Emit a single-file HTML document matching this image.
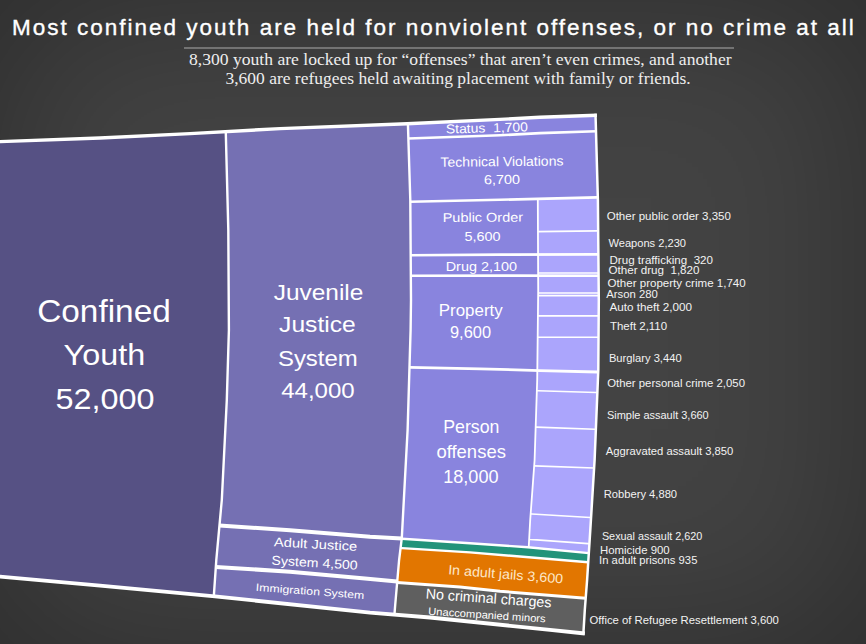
<!DOCTYPE html>
<html><head><meta charset="utf-8"><style>
html,body{margin:0;padding:0;}
body{width:866px;height:644px;overflow:hidden;position:relative;
background:#434343;box-shadow:inset 0 0 180px 0 rgba(0,0,0,0.35);
font-family:"Liberation Sans",sans-serif;}
svg{position:absolute;left:0;top:0;}
text{font-family:"Liberation Sans",sans-serif;}
</style></head><body>
<svg width="866" height="644" viewBox="0 0 866 644">
<text x="0" y="0" transform="translate(12.1 35.1) rotate(0.00)" font-size="22.5" fill="#ffffff" textLength="841.7" lengthAdjust="spacing" xml:space="preserve" stroke="#ffffff" stroke-width="0.35">Most confined youth are held for nonviolent offenses, or no crime at all</text>
<line x1="184" y1="48" x2="734" y2="48" stroke="#737373" stroke-width="2"/>
<text x="0" y="0" transform="translate(189.0 64.9) rotate(0.00)" font-size="17.0" fill="#eeeeee" textLength="542.6" lengthAdjust="spacingAndGlyphs" xml:space="preserve" style="font-family:'Liberation Serif',serif">8,300 youth are locked up for “offenses” that aren’t even crimes, and another</text>
<text x="0" y="0" transform="translate(225.5 84.0) rotate(0.00)" font-size="17.0" fill="#eeeeee" textLength="465.2" lengthAdjust="spacingAndGlyphs" xml:space="preserve" style="font-family:'Liberation Serif',serif">3,600 are refugees held awaiting placement with family or friends.</text>
<polygon points="-10.0,142.2 0.0,141.6 100.0,138.0 190.0,133.6 225.8,131.6 225.8,133.0 228.3,230.0 228.9,330.0 226.8,400.0 221.8,500.0 216.3,560.0 213.8,596.3 100.0,585.6 0.0,576.7 -10.0,575.9" fill="#565184"/>
<polygon points="225.8,131.6 280.0,128.6 407.0,123.7 407.9,123.7 407.9,123.7 410.3,200.0 411.0,300.0 410.6,330.0 407.6,430.0 404.9,480.0 401.8,538.0 401.7,538.5 370.0,536.7 290.0,530.3 219.5,525.5 221.8,500.0 226.8,400.0 228.9,330.0 228.3,230.0 225.8,133.0" fill="#7570b3"/>
<polygon points="219.5,525.5 290.0,530.3 370.0,536.7 401.7,538.5 399.1,560.0 397.2,581.5 397.0,581.5 365.0,578.5 290.0,571.7 215.8,566.9 216.3,560.0" fill="#7570b3"/>
<polygon points="215.8,566.9 290.0,571.7 365.0,578.5 397.0,581.5 397.2,581.5 395.2,605.0 394.5,614.0 394.5,614.6 370.0,612.6 215.0,596.4 213.8,596.3" fill="#7570b3"/>
<polygon points="407.9,123.7 500.0,119.4 540.0,117.2 595.5,115.3 596.0,131.2 540.0,133.1 500.0,135.3 408.4,138.5 407.9,123.7" fill="#8984de"/>
<polygon points="408.4,138.5 500.0,135.3 540.0,133.1 596.0,131.2 597.8,197.4 597.0,197.4 500.0,199.8 410.3,201.7 410.3,200.0" fill="#8984de"/>
<polygon points="410.3,201.7 500.0,199.8 537.8,198.9 537.8,199.0 538.2,290.0 537.3,370.5 480.0,368.8 410.0,367.3 409.5,367.3 410.6,330.0 411.0,300.0" fill="#8984de"/>
<polygon points="409.5,367.3 410.0,367.3 480.0,368.8 537.3,370.5 537.2,380.0 534.6,460.0 530.2,520.0 528.7,547.4 528.0,547.3 470.0,543.2 402.0,538.8 401.7,538.8 401.8,538.0 404.9,480.0 407.6,430.0" fill="#8984de"/>
<polygon points="537.8,198.9 597.0,197.4 597.8,197.4 597.9,200.0 598.8,300.0 598.3,370.0 594.6,460.0 590.3,530.0 588.8,553.1 528.7,547.4 530.2,520.0 534.6,460.0 537.2,380.0 538.2,290.0 537.8,199.0" fill="#aba5fc"/>
<polygon points="401.7,538.8 402.0,538.8 470.0,543.2 528.0,547.3 588.8,553.1 588.2,562.2 470.0,552.4 402.0,548.1 400.6,548.0" fill="#22937a"/>
<polygon points="400.6,548.0 402.0,548.1 470.0,552.4 588.2,562.2 587.1,580.0 585.7,598.2 500.0,591.3 460.0,587.0 397.1,582.5 399.1,560.0" fill="#e27600"/>
<polygon points="397.1,582.5 460.0,587.0 500.0,591.3 585.7,598.2 584.8,610.0 583.4,633.3 550.0,629.9 430.0,617.5 394.5,614.6 394.5,614.0 395.2,605.0" fill="#5f5f5f"/>
<polyline points="225.8,131.6 225.8,133.0 228.3,230.0 228.9,330.0 226.8,400.0 221.8,500.0 216.3,560.0 213.8,596.3" fill="none" stroke="#fff" stroke-width="2.40"/>
<polyline points="407.9,123.7 407.9,123.7 410.3,200.0 411.0,300.0 410.6,330.0 407.6,430.0 404.9,480.0 401.8,538.0 399.1,560.0 395.2,605.0 394.5,614.0 394.5,614.6" fill="none" stroke="#fff" stroke-width="2.40"/>
<polyline points="537.8,198.9 537.8,199.0 538.2,290.0 537.2,380.0 534.6,460.0 530.2,520.0 528.7,547.4" fill="none" stroke="#fff" stroke-width="1.80"/>
<polyline points="219.5,525.5 290.0,530.3 370.0,536.7 401.7,538.5" fill="none" stroke="#fff" stroke-width="4.00"/>
<polyline points="215.8,566.9 290.0,571.7 365.0,578.5 397.0,581.5 397.2,581.5" fill="none" stroke="#fff" stroke-width="4.00"/>
<polyline points="408.4,138.5 500.0,135.3 540.0,133.1 596.0,131.2" fill="none" stroke="#fff" stroke-width="2.60"/>
<polyline points="410.3,201.7 500.0,199.8 597.0,197.4 597.8,197.4" fill="none" stroke="#fff" stroke-width="2.60"/>
<polyline points="410.7,255.2 500.0,254.6 597.0,254.4 598.4,254.4" fill="none" stroke="#fff" stroke-width="2.60"/>
<polyline points="410.8,275.8 500.0,275.6 597.0,275.8 598.6,275.8" fill="none" stroke="#fff" stroke-width="2.60"/>
<polyline points="409.5,367.3 410.0,367.3 480.0,368.8 540.0,370.6 597.0,372.0 598.2,372.0" fill="none" stroke="#fff" stroke-width="2.80"/>
<polyline points="401.7,538.8 402.0,538.8 470.0,543.2 528.0,547.3 588.8,553.1" fill="none" stroke="#fff" stroke-width="2.40"/>
<polyline points="400.6,548.0 402.0,548.1 470.0,552.4 588.2,562.2" fill="none" stroke="#fff" stroke-width="2.40"/>
<polyline points="397.1,582.5 460.0,587.0 500.0,591.3 585.7,598.2" fill="none" stroke="#fff" stroke-width="3.00"/>
<polyline points="537.9,231.6 538.0,231.6 597.0,230.9 598.2,230.9" fill="none" stroke="#fff" stroke-width="1.60"/>
<polyline points="538.1,273.0 597.0,273.0 598.6,273.0" fill="none" stroke="#fff" stroke-width="1.60"/>
<polyline points="538.2,293.0 597.0,293.0 598.7,293.0" fill="none" stroke="#fff" stroke-width="1.60"/>
<polyline points="538.1,295.6 597.0,295.6 598.8,295.6" fill="none" stroke="#fff" stroke-width="1.60"/>
<polyline points="537.9,315.9 538.0,315.9 597.0,315.9 598.7,315.9" fill="none" stroke="#fff" stroke-width="1.60"/>
<polyline points="537.7,337.3 538.0,337.3 597.0,337.3 598.5,337.3" fill="none" stroke="#fff" stroke-width="1.60"/>
<polyline points="536.9,390.7 538.0,390.7 596.0,392.5 597.4,392.5" fill="none" stroke="#fff" stroke-width="1.60"/>
<polyline points="535.7,427.1 536.0,427.1 595.0,429.2 595.9,429.2" fill="none" stroke="#fff" stroke-width="1.60"/>
<polyline points="534.2,465.9 594.0,468.0 594.1,468.0" fill="none" stroke="#fff" stroke-width="1.60"/>
<polyline points="530.6,513.9 532.0,514.0 590.0,517.5 591.1,517.6" fill="none" stroke="#fff" stroke-width="1.60"/>
<polyline points="529.2,539.3 530.0,539.4 588.0,543.6 589.4,543.7" fill="none" stroke="#fff" stroke-width="1.60"/>
<polyline points="595.5,113.7 597.9,200.0 598.8,300.0 598.3,370.0 594.6,460.0 590.3,530.0 587.1,580.0 584.8,610.0 583.3,634.9" fill="none" stroke="#fff" stroke-width="2.50"/>
<polyline points="-11.4,142.3 0.0,141.6 100.0,138.0 190.0,133.6 280.0,128.6 407.0,123.7 500.0,119.4 540.0,117.2 596.9,115.3" fill="none" stroke="#fff" stroke-width="3.40"/>
<polyline points="-11.4,575.7 0.0,576.7 100.0,585.6 215.0,596.4 370.0,612.6 430.0,617.5 550.0,629.9 584.8,633.5" fill="none" stroke="#fff" stroke-width="3.80"/>
<text x="0" y="0" transform="translate(37.2 321.9) rotate(0.00)" font-size="30.9" fill="#fff" textLength="133.6" lengthAdjust="spacingAndGlyphs" xml:space="preserve">Confined</text>
<text x="0" y="0" transform="translate(63.6 365.0) rotate(0.00)" font-size="30.3" fill="#fff" textLength="81.6" lengthAdjust="spacingAndGlyphs" xml:space="preserve">Youth</text>
<text x="0" y="0" transform="translate(55.5 409.2) rotate(0.00)" font-size="30.2" fill="#fff" textLength="99.0" lengthAdjust="spacingAndGlyphs" xml:space="preserve">52,000</text>
<text x="0" y="0" transform="translate(273.7 300.0) rotate(0.00)" font-size="22.2" fill="#fff" textLength="89.7" lengthAdjust="spacingAndGlyphs" xml:space="preserve">Juvenile</text>
<text x="0" y="0" transform="translate(279.1 332.0) rotate(0.00)" font-size="22.3" fill="#fff" textLength="76.6" lengthAdjust="spacingAndGlyphs" xml:space="preserve">Justice</text>
<text x="0" y="0" transform="translate(277.9 365.7) rotate(0.00)" font-size="22.6" fill="#fff" textLength="79.9" lengthAdjust="spacingAndGlyphs" xml:space="preserve">System</text>
<text x="0" y="0" transform="translate(281.2 398.3) rotate(0.00)" font-size="22.6" fill="#fff" textLength="73.4" lengthAdjust="spacingAndGlyphs" xml:space="preserve">44,000</text>
<text x="0" y="0" transform="translate(446.0 133.5) rotate(-1.57)" font-size="13.0" fill="#fff" textLength="82.0" lengthAdjust="spacingAndGlyphs" xml:space="preserve">Status  1,700</text>
<text x="0" y="0" transform="translate(440.5 166.8) rotate(-0.61)" font-size="13.5" fill="#fff" textLength="123.0" lengthAdjust="spacingAndGlyphs" xml:space="preserve">Technical Violations</text>
<text x="0" y="0" transform="translate(483.9 184.3) rotate(-0.83)" font-size="13.0" fill="#fff" textLength="36.3" lengthAdjust="spacingAndGlyphs" xml:space="preserve">6,700</text>
<text x="0" y="0" transform="translate(442.7 222.0) rotate(-0.29)" font-size="12.8" fill="#fff" textLength="80.4" lengthAdjust="spacingAndGlyphs" xml:space="preserve">Public Order</text>
<text x="0" y="0" transform="translate(464.5 240.8) rotate(0.00)" font-size="13.0" fill="#fff" textLength="36.1" lengthAdjust="spacingAndGlyphs" xml:space="preserve">5,600</text>
<text x="0" y="0" transform="translate(445.7 270.6) rotate(0.00)" font-size="12.6" fill="#fff" textLength="71.4" lengthAdjust="spacingAndGlyphs" xml:space="preserve">Drug 2,100</text>
<text x="0" y="0" transform="translate(438.8 315.8) rotate(0.00)" font-size="16.1" fill="#fff" textLength="63.9" lengthAdjust="spacingAndGlyphs" xml:space="preserve">Property</text>
<text x="0" y="0" transform="translate(450.0 337.7) rotate(0.00)" font-size="16.3" fill="#fff" textLength="41.0" lengthAdjust="spacingAndGlyphs" xml:space="preserve">9,600</text>
<text x="0" y="0" transform="translate(443.2 433.2) rotate(0.00)" font-size="18.4" fill="#fff" textLength="56.2" lengthAdjust="spacingAndGlyphs" xml:space="preserve">Person</text>
<text x="0" y="0" transform="translate(436.4 457.9) rotate(0.00)" font-size="18.4" fill="#fff" textLength="69.5" lengthAdjust="spacingAndGlyphs" xml:space="preserve">offenses</text>
<text x="0" y="0" transform="translate(443.2 483.1) rotate(0.00)" font-size="17.9" fill="#fff" textLength="55.4" lengthAdjust="spacingAndGlyphs" xml:space="preserve">18,000</text>
<text x="0" y="0" transform="translate(273.7 546.3) rotate(3.22)" font-size="12.8" fill="#fff" textLength="83.4" lengthAdjust="spacingAndGlyphs" xml:space="preserve">Adult Justice</text>
<text x="0" y="0" transform="translate(271.3 564.6) rotate(3.31)" font-size="12.8" fill="#fff" textLength="86.3" lengthAdjust="spacingAndGlyphs" xml:space="preserve">System 4,500</text>
<text x="0" y="0" transform="translate(255.6 590.8) rotate(4.27)" font-size="10.6" fill="#fff" textLength="108.8" lengthAdjust="spacingAndGlyphs" xml:space="preserve">Immigration System</text>
<text x="0" y="0" transform="translate(447.9 574.3) rotate(4.55)" font-size="13.5" fill="#fde7c8" textLength="115.2" lengthAdjust="spacingAndGlyphs" xml:space="preserve">In adult jails 3,600</text>
<text x="0" y="0" transform="translate(425.4 598.6) rotate(4.06)" font-size="14.4" fill="#fff" textLength="126.0" lengthAdjust="spacingAndGlyphs" xml:space="preserve">No criminal charges</text>
<text x="0" y="0" transform="translate(427.9 614.7) rotate(3.79)" font-size="10.6" fill="#fff" textLength="117.8" lengthAdjust="spacingAndGlyphs" xml:space="preserve">Unaccompanied minors</text>
<text x="0" y="0" transform="translate(606.7 219.8) rotate(0.00)" font-size="11.0" fill="#f2f2f2" textLength="124.2" lengthAdjust="spacingAndGlyphs" xml:space="preserve">Other public order 3,350</text>
<text x="0" y="0" transform="translate(608.5 246.6) rotate(0.00)" font-size="11.0" fill="#f2f2f2" textLength="77.5" lengthAdjust="spacingAndGlyphs" xml:space="preserve">Weapons 2,230</text>
<text x="0" y="0" transform="translate(609.5 263.8) rotate(0.00)" font-size="11.0" fill="#f2f2f2" textLength="103.5" lengthAdjust="spacingAndGlyphs" xml:space="preserve">Drug trafficking  320</text>
<text x="0" y="0" transform="translate(608.5 273.9) rotate(0.00)" font-size="11.0" fill="#f2f2f2" textLength="91.0" lengthAdjust="spacingAndGlyphs" xml:space="preserve">Other drug  1,820</text>
<text x="0" y="0" transform="translate(607.6 287.0) rotate(0.00)" font-size="11.0" fill="#f2f2f2" textLength="138.1" lengthAdjust="spacingAndGlyphs" xml:space="preserve">Other property crime 1,740</text>
<text x="0" y="0" transform="translate(606.3 297.7) rotate(0.00)" font-size="11.0" fill="#f2f2f2" textLength="51.6" lengthAdjust="spacingAndGlyphs" xml:space="preserve">Arson 280</text>
<text x="0" y="0" transform="translate(609.5 310.7) rotate(0.00)" font-size="11.0" fill="#f2f2f2" textLength="82.6" lengthAdjust="spacingAndGlyphs" xml:space="preserve">Auto theft 2,000</text>
<text x="0" y="0" transform="translate(610.0 330.1) rotate(0.00)" font-size="11.0" fill="#f2f2f2" textLength="57.1" lengthAdjust="spacingAndGlyphs" xml:space="preserve">Theft 2,110</text>
<text x="0" y="0" transform="translate(608.9 362.4) rotate(0.00)" font-size="11.0" fill="#f2f2f2" textLength="72.7" lengthAdjust="spacingAndGlyphs" xml:space="preserve">Burglary 3,440</text>
<text x="0" y="0" transform="translate(607.2 387.0) rotate(0.00)" font-size="11.0" fill="#f2f2f2" textLength="137.8" lengthAdjust="spacingAndGlyphs" xml:space="preserve">Other personal crime 2,050</text>
<text x="0" y="0" transform="translate(606.9 419.0) rotate(0.00)" font-size="11.0" fill="#f2f2f2" textLength="101.8" lengthAdjust="spacingAndGlyphs" xml:space="preserve">Simple assault 3,660</text>
<text x="0" y="0" transform="translate(605.8 455.0) rotate(0.00)" font-size="11.0" fill="#f2f2f2" textLength="127.5" lengthAdjust="spacingAndGlyphs" xml:space="preserve">Aggravated assault 3,850</text>
<text x="0" y="0" transform="translate(603.7 498.1) rotate(0.00)" font-size="11.0" fill="#f2f2f2" textLength="73.4" lengthAdjust="spacingAndGlyphs" xml:space="preserve">Robbery 4,880</text>
<text x="0" y="0" transform="translate(601.9 539.9) rotate(0.00)" font-size="11.0" fill="#f2f2f2" textLength="100.5" lengthAdjust="spacingAndGlyphs" xml:space="preserve">Sexual assault 2,620</text>
<text x="0" y="0" transform="translate(600.0 554.1) rotate(0.00)" font-size="11.0" fill="#f2f2f2" textLength="69.7" lengthAdjust="spacingAndGlyphs" xml:space="preserve">Homicide 900</text>
<text x="0" y="0" transform="translate(599.1 563.9) rotate(0.00)" font-size="11.0" fill="#f2f2f2" textLength="98.3" lengthAdjust="spacingAndGlyphs" xml:space="preserve">In adult prisons 935</text>
<text x="0" y="0" transform="translate(589.5 623.5) rotate(0.00)" font-size="11.0" fill="#f2f2f2" textLength="189.3" lengthAdjust="spacingAndGlyphs" xml:space="preserve">Office of Refugee Resettlement 3,600</text>
</svg>
</body></html>
